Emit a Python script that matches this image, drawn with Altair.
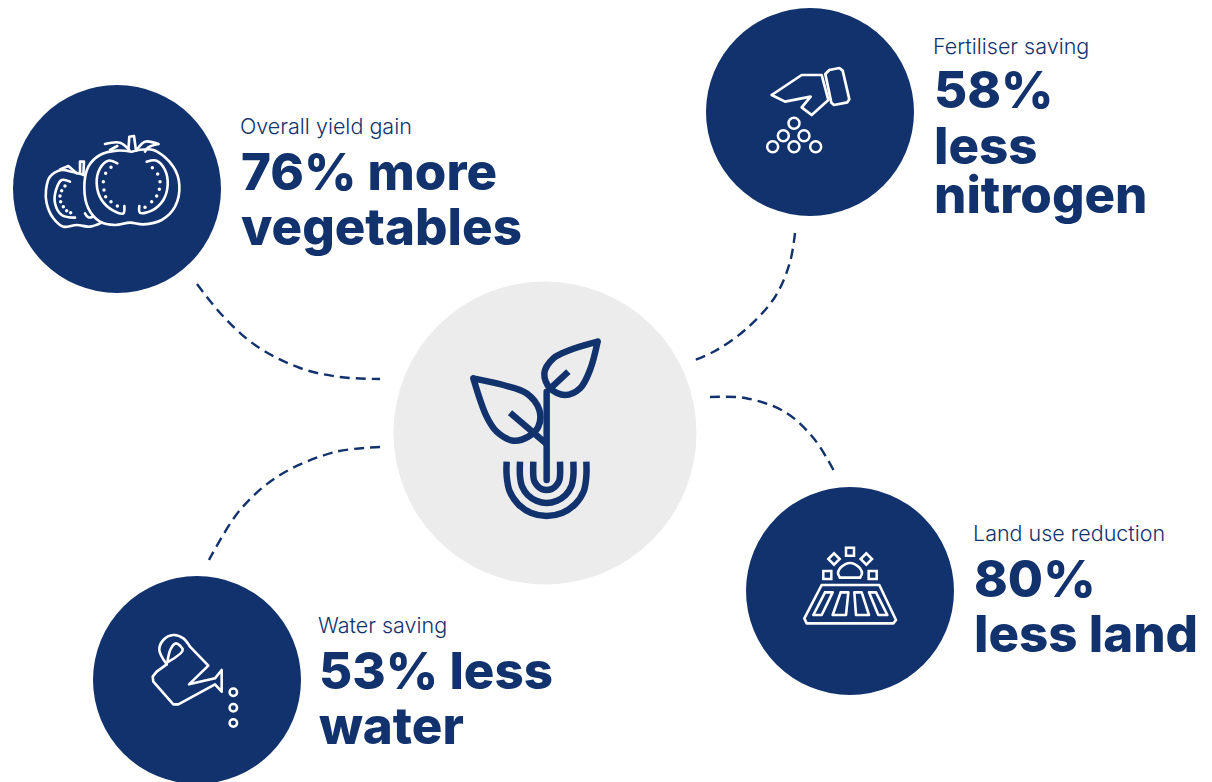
import altair as alt
import pandas as pd

NAVY = "#12326e"
GREY = "#ececec"
WHITE = "#ffffff"
FONT = "Inter"

# --- discs: centre x, centre y, diameter
disc_x = [545, 117, 810, 850, 197]
disc_y = [433, 189, 112, 591, 680]
disc_d = [303, 208, 208, 208, 208]
disc_c = [GREY, NAVY, NAVY, NAVY, NAVY]

# --- dashed connectors
connectors = [
    [(197, 284), (222, 315), (255, 345), (300, 368), (340, 377), (380, 379)],
    [(795, 233), (790, 262), (775, 297), (745, 330), (715, 351), (695, 360)],
    [(710, 397), (745, 398), (785, 412), (815, 440), (835, 473)],
    [(380, 447), (335, 452), (280, 475), (240, 510), (209, 560)],
]

# --- labels
small_text = ["Overall yield gain", "Fertiliser saving", "Land use reduction", "Water saving"]
small_x = [240, 933, 973, 318]
small_y = [134, 54, 541, 633]
big_text = ["76% more", "vegetables", "58%", "less", "nitrogen", "80%", "less land", "53% less", "water"]
big_x = [241, 241, 934, 934, 934, 974, 974, 319, 319]
big_y = [190, 245, 108, 164, 213, 597, 652, 689, 744]


def zoomed(points, ox, oy):
    """Points read on a 3x crop whose corner is (ox, oy)."""
    return [(ox + px / 3, oy + py / 3) for px, py in points]


T = (30, 120)
tomato_smooth = [zoomed(p, *T) for p in [
    [(305, 95), (370, 90), (430, 140), (448, 195), (435, 260), (395, 300), (340, 313), (300, 308),
     (255, 315), (210, 305), (175, 265), (163, 205), (175, 140), (210, 105), (260, 92), (305, 95)],
    [(262, 130), (235, 122), (210, 145), (200, 190), (215, 240), (250, 272), (280, 280), (283, 258)],
    [(350, 125), (380, 122), (405, 150), (413, 195), (400, 240), (365, 272), (330, 278), (328, 258)],
    [(215, 308), (180, 320), (140, 315), (100, 320), (70, 295), (50, 250), (48, 210), (60, 170), (95, 150), (125, 155), (165, 165)],
    [(120, 185), (95, 180), (78, 210), (75, 250), (95, 285), (135, 293)],
    [(165, 280), (175, 292), (190, 290)],
    [(225, 72), (270, 68), (298, 90)],
    [(240, 90), (262, 78)],
    [(320, 90), (345, 65), (385, 72)],
    [(385, 72), (355, 82), (345, 95)],
]]
tomato_lines = [zoomed(p, *T) for p in [
    [(295, 92), (298, 50), (312, 48), (318, 92)],
    [(150, 158), (150, 125), (162, 125), (160, 165)],
    [(90, 148), (115, 138), (140, 160)],
]]
tomato_dots = zoomed(
    [(243, 142), (227, 160), (220, 185), (222, 210), (227, 230), (243, 245), (262, 258),
     (367, 143), (383, 162), (390, 185), (388, 208), (380, 228), (365, 245), (345, 262),
     (105, 198), (95, 212), (90, 228), (92, 245), (100, 260), (110, 272), (122, 278)], *T)

F = (750, 50)
fert_lines = [zoomed(p, *F) for p in [
    [(65, 135), (155, 75), (215, 75), (235, 150), (185, 195), (155, 172), (182, 140), (105, 155), (65, 135)],
    [(238, 60), (268, 54), (278, 62), (298, 148), (292, 157), (252, 165), (244, 158), (226, 72), (238, 60)],
]]
fert_rings = zoomed([(132, 220), (100, 257), (162, 257), (68, 290), (132, 290), (197, 290)], *F)

P = (450, 320)
plant_stem = [zoomed(p, *P) for p in [[(290, 480), (290, 215)]]]
plant_veins = [zoomed(p, *P) for p in [
    [(290, 372), (180, 278)],
    [(298, 208), (355, 155)],
]]
plant_leaves = [zoomed(p, *P) for p in [
    [(70, 175), (160, 195), (230, 220), (268, 270), (265, 320), (235, 350), (190, 362), (140, 335), (110, 290), (70, 175)],
    [(443, 65), (360, 90), (310, 115), (283, 160), (300, 205), (345, 225), (390, 205), (420, 150), (443, 65)],
]]
plant_arches = [zoomed(p, *P) for p in [
    [(170, 425), (170, 468), (179, 514), (205, 553), (244, 579), (290, 588), (336, 579), (375, 553), (401, 514), (409, 468), (409, 425)],
    [(210, 425), (210, 468), (216, 499), (233, 525), (259, 542), (290, 549), (321, 542), (347, 525), (364, 499), (370, 468), (370, 425)],
    [(250, 425), (250, 468), (253, 484), (262, 497), (275, 507), (290, 510), (305, 507), (318, 497), (327, 484), (330, 468), (330, 425)],
]]

L = (790, 535)
land_lines = [zoomed(p, *L) for p in [
    [(95, 150), (268, 150), (318, 255), (310, 265), (50, 265), (43, 250), (95, 150)],
    [(105, 172), (128, 172), (95, 240), (70, 240), (105, 172)],
    [(152, 172), (175, 172), (168, 240), (128, 240), (152, 172)],
    [(193, 172), (215, 172), (237, 240), (198, 240), (193, 172)],
    [(237, 172), (258, 172), (292, 240), (265, 240), (237, 172)],
    [(150, 128), (210, 128)],
]]
land_dome = [zoomed(p, *L) for p in [
    [(150, 128), (144, 115), (150, 100), (165, 88), (180, 84), (195, 88), (210, 100), (216, 115), (210, 128)],
]]
land_squares = zoomed([(180, 50), (112, 120), (248, 120)], *L)
land_diamonds = zoomed([(132, 72), (229, 72)], *L)

W = (140, 625)
water_lines = [zoomed(p, *W) for p in [
    [(150, 65), (205, 122), (147, 178), (225, 160), (245, 135), (245, 200), (225, 178), (115, 238),
     (100, 238), (40, 170), (38, 155), (50, 140), (80, 118)],
]]
water_handle = [zoomed(p, *W) for p in [
    [(80, 118), (58, 75), (70, 45), (100, 30), (130, 40), (150, 65)],
    [(82, 112), (92, 72), (108, 55), (128, 75), (82, 112)],
]]
water_rings = zoomed([(280, 202), (280, 248), (280, 294)], *W)

X = alt.X("x:Q", scale=alt.Scale(domain=[8, 1204]), axis=None)
Y = alt.Y("y:Q", scale=alt.Scale(domain=[8, 782], reverse=True), axis=None)


def path_table(paths):
    rows = []
    for pid, path in enumerate(paths):
        for order, (x, y) in enumerate(path):
            rows.append({"x": x, "y": y, "pid": pid, "order": order})
    return pd.DataFrame(rows)


def lines(paths, color, width, smooth=False, cap="round", dash=None):
    kw = dict(color=color, strokeWidth=width, strokeCap=cap, strokeJoin="round",
              interpolate="catmull-rom" if smooth else "linear")
    if dash:
        kw["strokeDash"] = dash
    return alt.Chart(path_table(paths)).mark_line(**kw).encode(
        x=X, y=Y, detail="pid:N", order="order:Q")


def symbols(points, shape, size, color=WHITE, width=2.5, filled=False):
    data = pd.DataFrame(points, columns=["x", "y"])
    kw = dict(shape=shape, size=size, opacity=1)
    if filled:
        kw.update(filled=True, color=color, strokeWidth=0)
    else:
        kw.update(filled=False, stroke=color, strokeWidth=width)
    return alt.Chart(data).mark_point(**kw).encode(x=X, y=Y)


discs = alt.Chart(pd.DataFrame({"x": disc_x, "y": disc_y, "d2": [d * d for d in disc_d], "c": disc_c})).mark_circle(
    opacity=1, strokeWidth=0
).encode(x=X, y=Y, size=alt.Size("d2:Q", scale=None), color=alt.Color("c:N", scale=None))


def labels(texts, xs, ys, size, weight):
    return alt.Chart(pd.DataFrame({"x": xs, "y": ys, "t": texts})).mark_text(
        align="left", baseline="alphabetic", font=FONT, fontSize=size, fontWeight=weight, color=NAVY
    ).encode(x=X, y=Y, text="t:N")


chart = alt.layer(
    discs,
    lines(connectors, NAVY, 2.4, smooth=True, cap="butt", dash=[10, 6]),
    lines(tomato_smooth, WHITE, 2.6, smooth=True),
    lines(tomato_lines, WHITE, 2.6),
    symbols(tomato_dots, "circle", 12, filled=True),
    lines(fert_lines, WHITE, 2.7),
    symbols(fert_rings, "circle", 121),
    lines(plant_stem, NAVY, 6.5),
    lines(plant_veins, NAVY, 6.5, cap="butt"),
    lines(plant_leaves, NAVY, 6.5, smooth=True),
    lines(plant_arches, NAVY, 6.5, smooth=True, cap="butt"),
    lines(land_lines, WHITE, 2.6),
    lines(land_dome, WHITE, 2.6, smooth=True),
    symbols(land_squares, "square", 64),
    symbols(land_diamonds, "diamond", 130),
    lines(water_lines, WHITE, 2.6),
    lines(water_handle, WHITE, 2.6, smooth=True),
    symbols(water_rings, "circle", 56),
    labels(small_text, small_x, small_y, 21.5, 300),
    labels(big_text, big_x, big_y, 51, 800),
).properties(width=1196, height=774, padding=0, background="white").configure_view(stroke=None)

chart.save("out.html", embed_options={"renderer": "svg", "actions": False})
